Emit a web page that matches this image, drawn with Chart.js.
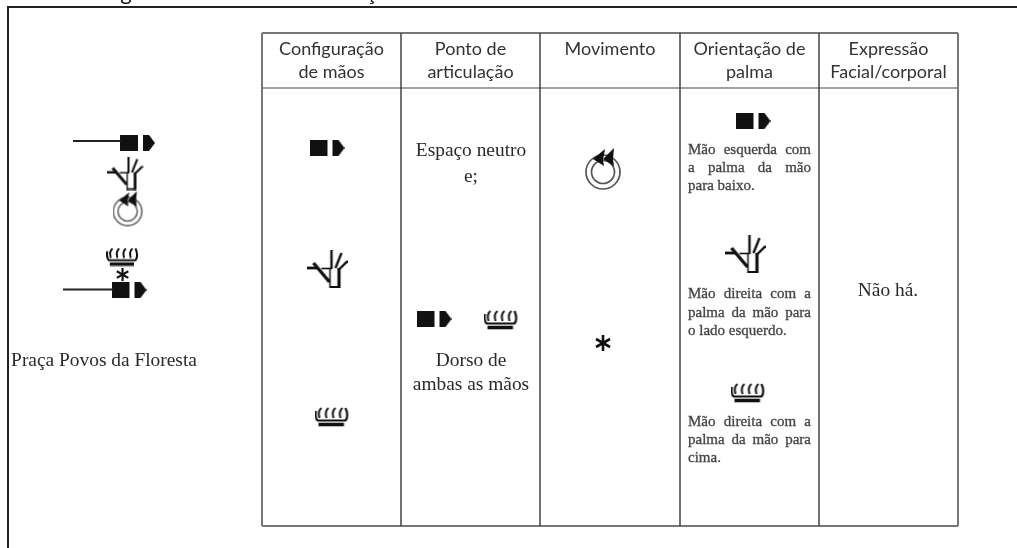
<!DOCTYPE html>
<html>
<head>
<meta charset="utf-8">
<style>
  html, body { margin: 0; padding: 0; background: #fff; overflow: hidden; }
  canvas { display: block; filter: blur(0.35px); }
</style>
<script src="https://cdn.jsdelivr.net/npm/chart.js@4/dist/chart.umd.js"></script>
</head>
<body>
<canvas id="chart" width="1017" height="548"></canvas>
<script>
// table
const columnEdges = [262, 401, 540, 680, 819, 958];
const rowEdges = [33, 88, 526];
const headers = [
  ["Configuração", "de mãos"],
  ["Ponto de", "articulação"],
  ["Movimento"],
  ["Orientação de", "palma"],
  ["Expressão", "Facial/corporal"]
];
const headerY = [49, 72];

// text in the cells
const serifTexts = ["Praça Povos da Floresta", "Espaço neutro", "e;", "Dorso de", "ambas as mãos", "Não há."];
const serifX = [104, 471, 471, 471, 471, 888];
const serifY = [361, 151, 177, 361, 385, 291];
const palmNotes = [
  "Mão esquerda com", "a palma da mão", "para baixo.",
  "Mão direita com a", "palma da mão para", "o lado esquerdo.",
  "Mão direita com a", "palma da mão para", "cima."
];
const palmNoteY = [150, 168, 186, 294, 313, 331, 422, 440, 458];
const palmNoteEnds = [false, false, true, false, false, true, false, false, true];

// what is left of the cut off caption
const captionBits = ["g", "ç"];
const captionX = [126, 371];

// sign glyph positions
const flatX = [327, 434, 753, 137.5, 129];
const flatY = [148, 319, 121, 143, 290];
const handX = [327, 745];
const handY = [269, 254];
const handSmallX = [125];
const handSmallY = [173.5];
const cupX = [332, 501, 748];
const cupY = [417, 320, 393];
const cupSmallX = [123];
const cupSmallY = [257];
const circleX = [603];
const circleY = [168.5];
const circleSmallX = [128];
const circleSmallY = [209];
const starX = [603];
const starY = [343];
const starSmallX = [123];
const starSmallY = [275];

// arm lines on the left signs
const armX = [[73, 121], [63, 113]];
const armY = [[141, 141], [289.5, 289.5]];

function toPoints(xs, ys) {
  return xs.map((x, i) => ({ x: x, y: ys[i] }));
}

function sprite(w, h, scale, draw) {
  const c = document.createElement('canvas');
  c.width = Math.ceil(w * scale);
  c.height = Math.ceil(h * scale);
  const g = c.getContext('2d');
  g.scale(scale, scale);
  g.strokeStyle = '#111';
  g.fillStyle = '#111';
  g.lineCap = 'butt';
  draw(g);
  return c;
}

function line(g, x1, y1, x2, y2, w) {
  g.lineWidth = w;
  g.beginPath();
  g.moveTo(x1, y1);
  g.lineTo(x2, y2);
  g.stroke();
}

function poly(g, pts) {
  g.beginPath();
  pts.forEach((p, i) => i ? g.lineTo(p[0], p[1]) : g.moveTo(p[0], p[1]));
  g.closePath();
  g.fill();
}

function drawFlat(g) {
  g.fillRect(0, 0, 18, 16);
  poly(g, [[23, 0], [29, 0], [35, 8], [29, 16], [23, 16]]);
}

function drawHand(g) {
  line(g, 25, 0, 25, 19, 2.4);
  line(g, 29, 18, 35, 3, 2.4);
  line(g, 32, 20, 41, 11, 2.4);
  // wrist
  line(g, 23.5, 18, 23.5, 38, 1.5);
  line(g, 32.5, 18, 32.5, 38, 3.2);
  line(g, 23, 37, 33, 37, 2);
  // thumb
  line(g, 0, 18, 11, 18, 2.8);
  line(g, 7, 13, 23, 32, 3.4);
  line(g, 15, 18.5, 25, 18.5, 1.6);
}

function drawCup(g) {
  g.lineWidth = 2;
  [3, 10, 17, 24].forEach(x => {
    g.beginPath();
    g.moveTo(x + 4, 1);
    g.quadraticCurveTo(x, 4, x + 2, 11);
    g.stroke();
  });
  g.lineWidth = 2.2;
  g.beginPath();
  g.moveTo(1.5, 4);
  g.quadraticCurveTo(0, 10, 3, 13.5);
  g.lineTo(31, 13.5);
  g.quadraticCurveTo(34.5, 9, 31, 1);
  g.stroke();
  line(g, 4, 17.5, 29.5, 17.5, 3.6);
}

function drawCircle(g) {
  g.strokeStyle = '#555';
  g.lineWidth = 1.7;
  [17, 11.5].forEach(r => {
    g.beginPath();
    g.arc(18, 25, r, 0, Math.PI * 2);
    g.stroke();
  });
  poly(g, [[8, 12], [20, 2], [18, 13], [19, 19]]);
  poly(g, [[18, 12], [29, 1], [28, 12], [29, 19]]);
}

function drawStar(g) {
  line(g, 8, 0, 8, 16, 2.6);
  line(g, 1, 4, 15, 12, 2.6);
  line(g, 15, 4, 1, 12, 2.6);
}

const spriteFlat = sprite(35, 16, 1, drawFlat);
const spriteHand = sprite(41, 38, 1, drawHand);
const spriteHandSmall = sprite(41, 38, 0.88, drawHand);
const spriteCup = sprite(35, 20, 1, drawCup);
const spriteCupSmall = sprite(35, 20, 0.95, drawCup);
const spriteCircle = sprite(36, 43, 1, drawCircle);
const spriteCircleSmall = sprite(36, 43, 0.84, drawCircle);
const spriteStar = sprite(16, 16, 1, drawStar);
const spriteStarSmall = sprite(16, 16, 0.82, drawStar);

function edgeColor(i, n) {
  return i === 0 || i === n - 1 ? '#777' : '#444';
}

const datasets = [];

// frame
datasets.push({ type: 'line', data: toPoints([8, 8, 1017], [548, 7, 7]), borderColor: '#222', borderWidth: 2, pointRadius: 0 });

// table lines
columnEdges.forEach((x, i) => {
  datasets.push({
    type: 'line',
    data: toPoints([x, x], [rowEdges[0], rowEdges[2]]),
    borderColor: edgeColor(i, columnEdges.length),
    borderWidth: i === 0 || i === columnEdges.length - 1 ? 2 : 1.5,
    pointRadius: 0
  });
});
rowEdges.forEach((y, i) => {
  datasets.push({
    type: 'line',
    data: toPoints([columnEdges[0], columnEdges[5]], [y, y]),
    borderColor: edgeColor(i, rowEdges.length),
    borderWidth: i === 1 ? 1.2 : 2,
    pointRadius: 0
  });
});

// arms
armX.forEach((xs, i) => {
  datasets.push({ type: 'line', data: toPoints(xs, armY[i]), borderColor: '#222', borderWidth: 2, pointRadius: 0 });
});

// glyphs
[
  [flatX, flatY, spriteFlat],
  [handX, handY, spriteHand],
  [handSmallX, handSmallY, spriteHandSmall],
  [cupX, cupY, spriteCup],
  [cupSmallX, cupSmallY, spriteCupSmall],
  [circleX, circleY, spriteCircle],
  [circleSmallX, circleSmallY, spriteCircleSmall],
  [starX, starY, spriteStar],
  [starSmallX, starSmallY, spriteStarSmall]
].forEach(g => {
  datasets.push({ type: 'scatter', data: toPoints(g[0], g[1]), pointStyle: g[2], pointRadius: 10, showLine: false });
});

function noteText(ctx, text, x, y) {
  ctx.fillText(text, x, y);
  ctx.strokeText(text, x, y);
}

function justified(ctx, text, left, right, y, lastLine) {
  ctx.textAlign = 'left';
  if (lastLine) {
    noteText(ctx, text, left, y);
    return;
  }
  const words = text.split(' ');
  let used = 0;
  words.forEach(w => { used += ctx.measureText(w).width; });
  const gap = (right - left - used) / (words.length - 1);
  let x = left;
  words.forEach(w => {
    noteText(ctx, w, x, y);
    x += ctx.measureText(w).width + gap;
  });
}

const tableText = {
  id: 'tableText',
  afterDatasetsDraw(chart) {
    const ctx = chart.ctx;
    const sx = chart.scales.x;
    const sy = chart.scales.y;
    ctx.save();
    ctx.textBaseline = 'middle';

    // headers
    ctx.font = '18px Lato';
    ctx.fillStyle = '#333';
    ctx.textAlign = 'center';
    headers.forEach((lines, c) => {
      const mid = (columnEdges[c] + columnEdges[c + 1]) / 2;
      lines.forEach((t, i) => {
        ctx.fillText(t, sx.getPixelForValue(mid), sy.getPixelForValue(headerY[i]));
      });
    });

    // caption leftovers, cut by the top of the picture
    ctx.font = '22px Lato';
    ctx.fillStyle = '#111';
    ctx.textBaseline = 'alphabetic';
    captionBits.forEach((t, i) => {
      ctx.fillText(t, sx.getPixelForValue(captionX[i]), sy.getPixelForValue(0));
    });
    ctx.textBaseline = 'middle';

    // serif cells
    ctx.font = '19.4px "Liberation Serif"';
    ctx.fillStyle = '#2a2a2a';
    serifTexts.forEach((t, i) => {
      ctx.fillText(t, sx.getPixelForValue(serifX[i]), sy.getPixelForValue(serifY[i]));
    });

    // notes in the palm column
    ctx.font = '15px "Liberation Serif"';
    ctx.fillStyle = '#444';
    ctx.strokeStyle = '#444';
    ctx.lineWidth = 0.3;
    palmNotes.forEach((t, i) => {
      justified(ctx, t, sx.getPixelForValue(688), sx.getPixelForValue(811), sy.getPixelForValue(palmNoteY[i]), palmNoteEnds[i]);
    });
    ctx.restore();
  }
};

new Chart(document.getElementById('chart'), {
  type: 'scatter',
  data: { datasets: datasets },
  plugins: [tableText],
  options: {
    responsive: false,
    animation: false,
    layout: { padding: 0, autoPadding: false },
    elements: { line: { tension: 0, fill: false } },
    plugins: { legend: { display: false }, tooltip: { enabled: false } },
    scales: {
      x: { type: 'linear', min: 0, max: 1017, display: false },
      y: { type: 'linear', min: 0, max: 548, reverse: true, display: false }
    }
  }
});
</script>
</body>
</html>
